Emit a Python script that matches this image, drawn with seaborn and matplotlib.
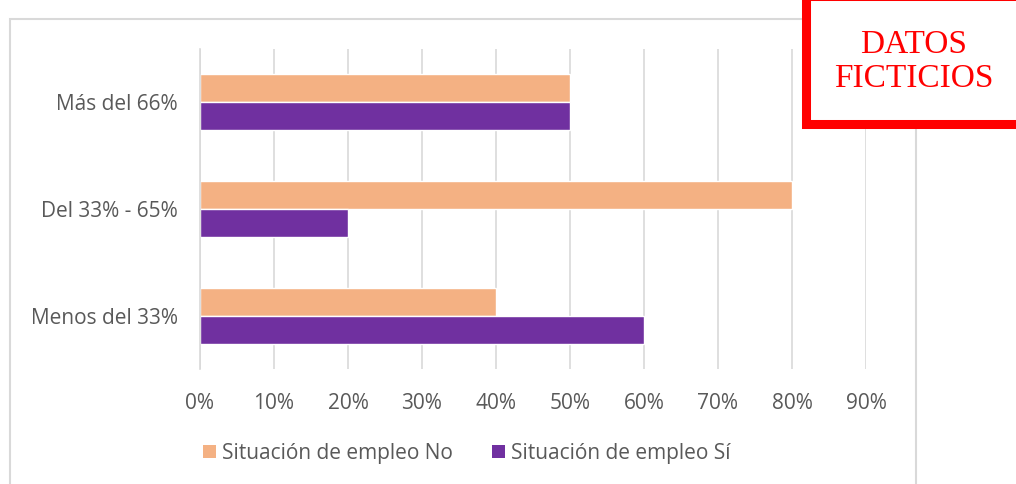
import matplotlib
matplotlib.use("Agg")
import matplotlib.pyplot as plt
import seaborn as sns
import pandas as pd
from matplotlib.patches import Rectangle, Patch
from matplotlib.ticker import FuncFormatter, MultipleLocator

categories = ["Más del 66%", "Del 33% - 65%", "Menos del 33%"]
series_names = ["Situación de empleo No", "Situación de empleo Sí"]
values_no = [0.50, 0.80, 0.40]
values_si = [0.50, 0.20, 0.60]
colors = ["#F4B183", "#7030A0"]

rows = []
for c, v in zip(categories, values_no):
    rows.append({"cat": c, "serie": series_names[0], "val": v})
for c, v in zip(categories, values_si):
    rows.append({"cat": c, "serie": series_names[1], "val": v})
df = pd.DataFrame(rows)

sns.set_theme(style="white")
plt.rcParams["font.family"] = ["Open Sans", "DejaVu Sans"]

W, H = 1016, 484
fig = plt.figure(figsize=(W / 100, H / 100), dpi=100)
ax = fig.add_axes([200 / W, 1 - 369 / H, (866 - 200) / W, (369 - 49) / H])

sns.barplot(data=df, y="cat", x="val", hue="serie", order=categories,
            hue_order=series_names, palette=colors, orient="h",
            width=0.525, gap=0, ax=ax, legend=False, saturation=1)

ax.set_xlim(0, 0.9)
ax.set_ylim(2.5, -0.5)
ax.xaxis.set_major_locator(MultipleLocator(0.1))
ax.xaxis.set_major_formatter(FuncFormatter(lambda v, p: f"{v*100:.0f}%"))
ax.grid(axis="x", color="#D9D9D9", linewidth=1.2)
ax.set_axisbelow(True)
for s in ["top", "right", "bottom"]:
    ax.spines[s].set_visible(False)
ax.spines["left"].set_color("#D9D9D9")
ax.spines["left"].set_linewidth(1.2)
ax.set_xlabel("")
ax.set_ylabel("")
ax.tick_params(axis="both", length=0, labelsize=15, labelcolor="#595959")
ax.tick_params(axis="x", pad=17)
ax.tick_params(axis="y", pad=16)

handles = [Patch(facecolor=c, edgecolor="none") for c in colors]
fig.legend(handles, series_names, loc="center", bbox_to_anchor=(467 / W, 1 - 453 / H),
           ncol=2, frameon=False, fontsize=15, labelcolor="#595959",
           handlelength=0.6, handleheight=0.6, handletextpad=0.3, columnspacing=1.9)

# outer chart border
fig.patches.append(Rectangle((10 / W, -0.1), (916 - 10) / W, 1.1 - 19 / H,
                             transform=fig.transFigure, facecolor="none",
                             edgecolor="#D9D9D9", linewidth=1.5, zorder=0))
# red watermark box
fig.patches.append(Rectangle((805.5 / W, 1 - 124 / H), 0.3, 124 / H + 3.8 / H,
                             transform=fig.transFigure, facecolor="white",
                             edgecolor="#FF0000", linewidth=6.5, zorder=10))
fig.text(914 / W, 1 - 62 / H, "DATOS\nFICTICIOS", ha="center", va="center",
         color="#FF0000", fontsize=24, family="Liberation Serif",
         linespacing=1.15, zorder=11)

fig.savefig("out.png", dpi=100)
